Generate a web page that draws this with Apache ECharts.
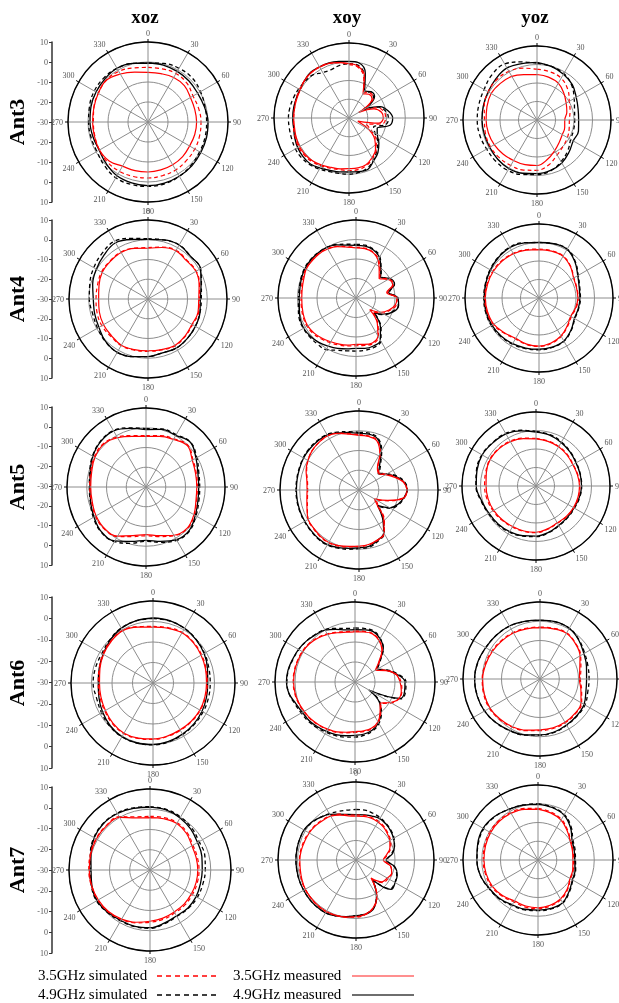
<!DOCTYPE html>
<html>
<head>
<meta charset="utf-8">
<script src="https://cdn.jsdelivr.net/npm/echarts/dist/echarts.min.js"></script>
<style>
  html, body { margin: 0; padding: 0; background: #fff; }
  /* own compositing layer without an opaque background: grayscale text antialiasing */
  #chart { width: 619px; height: 1003px; will-change: transform; }
</style>
</head>
<body>
<div id="chart"></div>
<script>
// Radiation patterns (dB) of five antennas in three cut planes.
// Angles in degrees, clockwise from the top (0 deg).
const angles15 = [0,15,30,45,60,75,90,105,120,135,150,165,180,195,210,225,240,255,270,285,300,315,330,345];
const angles10 = [0,10,20,30,40,50,60,70,80,90,100,110,120,130,140,150,160,170,180,190,200,210,220,230,240,250,260,270,280,290,300,310,320,330,340,350];
const rowNames = ['Ant3', 'Ant4', 'Ant5', 'Ant6', 'Ant7'];
const planeNames = ['xoz', 'xoy', 'yoz'];
const legendNames = ['3.5GHz simulated', '3.5GHz measured', '4.9GHz simulated', '4.9GHz measured'];

// ---- Ant3 ----
const ant3_xoz_s35 = [-2.7,-2.5,-2,-2.5,-4,-3.8,-3.5,-3.3,-3,-2.8,-2.3,-2.2,-2,-1.8,-1.5,-1.5,-2,-2.5,-2.7,-2,-1.3,-0.5,-0.8,-2];
const ant3_xoz_m35 = [-5.2,-5,-4.3,-4.3,-5.5,-5.8,-5.7,-5.8,-6,-5.5,-5.3,-5.2,-5,-4.8,-4.5,-2.5,-2,-2.3,-2.3,-2,-1.3,-0.5,-2.3,-4.2];
const ant3_xoz_s49 = [-0.5,0.3,1,1.2,0.3,-0.5,-0.7,-0.5,-0.2,0.5,1.3,2,2.2,2.3,2.2,0.8,-0.5,-0.5,-0.3,0.3,1,1.2,1,0.3];
const ant3_xoz_m49 = [-0.5,-0.5,-0.8,-1,-1.3,-0.8,0,0.3,0.5,1,1.3,1.6,1.8,1.5,1,-0.5,-1.8,-1.5,-1,-0.5,0,0.5,1,0.3];

const ant3_xoy_s35 = [-1.5,-2.5,-7,-14,-12.5,-13,-22,-14,-11,-10.5,-12,-20,-16,-11,-7.5,-5,-3,-2,-2,-2,-1.5,-0.5,0.5,1,1,0.5,0,-0.5,-0.5,0,0.5,1,1.5,1.5,1,0];
const ant3_xoy_m35 = [-1,-2,-6,-15,-13.5,-14,-24,-15.8,-12.4,-11.7,-14,-25,-18,-12,-8,-5.5,-3.5,-3,-3,-2.5,-2,-1,0,0.5,0.5,0,-0.5,-0.5,-0.5,-0.3,0,1,1.5,1.3,1,0];
const ant3_xoy_s49 = [-1,-1.5,-6,-14,-12,-13,-22,-13,-10,-9,-10,-16,-14,-10,-7,-4,-1.5,-0.5,0,0,0.5,1.5,2.5,3,3,2.5,2.3,2.3,2,1.5,1,0.5,0,-2,-2.5,-1.5];
const ant3_xoy_m49 = [0.2,-0.1,-4.6,-13.3,-11.7,-12.2,-20,-12.4,-8.7,-6.7,-7.8,-14,-12.6,-9.2,-6,-3.7,-0.8,-1,-1.2,-0.8,-0.3,0.8,2,2,1.6,0.8,0,0,0,0,0.2,1,1.8,1.5,1.3,0.6];

const ant3_yoz_s35 = [-2.5,-3,-3.9,-6.5,-9.8,-11.5,-12.5,-12,-11,-10,-8.2,-5,-2.8,-2,-1.6,-1.2,-1,-1.2,-1.6,-0.5,0.5,0.8,0.4,-1];
const ant3_yoz_m35 = [-5.4,-6,-7,-9.5,-11.8,-13.3,-15,-14.5,-14.2,-13,-10.9,-8,-5.4,-5,-4.7,-4,-3.3,-2.8,-2.5,-2,-1.4,-2,-2.8,-4.6];
const ant3_yoz_s49 = [0.7,0,-1,-3.5,-6.8,-9,-9.6,-9.5,-9,-6.5,-4,-1.5,-0.5,0.5,1.5,1.5,1.4,2,2.3,2.5,3,4.5,5,2.5];
const ant3_yoz_m49 = [1.2,0,-1.4,-3,-5.5,-7,-7.5,-6.8,-7.4,-5.5,-3.2,-1.8,-1,-0.2,0.4,0,-0.5,-0.5,-0.3,0,0.5,1.5,2.5,1.6];

// ---- Ant4 ----
const ant4_xoz_s35 = [-4,-2.8,-1.5,-2.2,-1.8,-3,-4,-3.5,-4,-3.3,-2.6,-3.3,-3.5,-3.2,-2.8,-3.3,-3,-3.3,-3.7,-3.5,-2.8,-2.8,-2.6,-3.3];
const ant4_xoz_m35 = [-4.3,-3,-1.8,-2.5,-2,-3.2,-4.3,-3.8,-4.3,-3.5,-2.8,-3.5,-3.8,-3.5,-3,-3.8,-4,-4.5,-5,-4.3,-3.2,-3,-2.8,-3.5];
const ant4_xoz_s49 = [0.5,1,1.6,0.5,0.7,-2,-3,-2.8,-2.3,-1.8,-1.3,-1.8,-0.8,0.2,1.2,0.5,-0.5,-1,-0.3,0.5,1.7,2.8,3.8,1.8];
const ant4_xoz_m49 = [0.2,1,1.6,0.5,0.7,-2.2,-3.5,-2.8,-2.3,-1.8,-1.3,-1.8,-0.8,0.2,1.2,0.4,-1.3,-2,-2.3,-1,0.2,1.5,2.9,1.2];

const ant4_xoy_s35 = [-4,-4,-4.8,-7,-11,-14,-10.5,-9.5,-13.5,-9,-9,-11.5,-14.5,-19,-12.5,-7,-5,-5.3,-5.5,-5,-4.3,-3.5,-2.5,-1.5,-1,-1.2,-1.6,-1.8,-1.6,-1,-0.3,-0.3,-0.3,-0.8,-1.8,-3.3];
const ant4_xoy_m35 = [-4.3,-4.3,-5,-7.5,-11.5,-14.5,-11,-10,-14,-9,-9.5,-12,-15.4,-20.8,-13,-7.5,-5.5,-5.8,-6.2,-5.5,-4.8,-4.1,-3,-2,-1.4,-1.6,-2,-2.2,-2,-1.5,-0.5,-0.5,-0.5,-1,-2,-3.5];
const ant4_xoy_s49 = [-2.5,-2.5,-3.5,-5.5,-10,-13,-10,-9,-12.5,-8.5,-8,-10,-13,-17,-10,-4.5,-3,-2.8,-2.8,-2.5,-1.5,0.6,0.8,1,1.2,1,0,-0.5,-0.5,0,0.5,0.5,0.3,0,-0.8,-2];
const ant4_xoy_m49 = [-3,-3,-3.8,-6,-10.2,-13.5,-10,-9,-13,-8.5,-7.8,-9.5,-13.5,-18,-10.5,-5,-3.8,-3.8,-4.2,-3.5,-2.5,-1.5,-0.3,0.5,1,0.5,-0.5,-0.9,-0.8,-0.3,0.2,0.3,0.2,0,-1,-2.5];

const ant4_yoz_s35 = [-3.5,-3.5,-3.8,-5.8,-8.2,-8.8,-8.8,-9.2,-9.8,-8.2,-6,-4.5,-3.8,-4,-4.5,-3.2,-1.4,-0.9,-0.7,-0.9,-1.1,-1.5,-2.1,-3];
const ant4_yoz_m35 = [-3.8,-3.8,-4,-6,-8.4,-9,-9,-9.5,-10.2,-8.5,-6.3,-4.8,-4,-4.2,-4.8,-3.5,-1.7,-1.2,-1,-1.2,-1.4,-1.8,-2.4,-3.2];
const ant4_yoz_s49 = [0,0.4,0.6,-2.2,-5.5,-7.2,-7.6,-7.8,-7.6,-5.3,-3,-2.3,-2,-1.7,-1.2,-0.7,-0.3,-0.2,-0.2,0,0.6,1.2,1.7,1];
const ant4_yoz_m49 = [0,0.4,0.4,-2.5,-5.8,-7.5,-7.9,-8,-7.9,-5.5,-3.2,-2.5,-2.3,-2,-1.5,-1,-0.6,-0.5,-0.5,-0.2,0.4,1,1.5,0.8];

// ---- Ant5 ----
const ant5_xoz_s35 = [-4,-3,-1.8,0,-2.5,-3.6,-4,-3.5,-1.8,-0.3,-1.5,-4,-5.3,-4,-1,0,-0.5,-1.5,-1.5,-1,0.3,0.8,-0.8,-3];
const ant5_xoz_m35 = [-4.4,-3.5,-2.2,-0.4,-2.9,-4,-4.3,-3.8,-2,-0.5,-1.8,-4.5,-5.9,-4.5,-1.3,-0.3,-0.8,-1.8,-2,-1.5,-0.1,0.5,-1.2,-3.5];
const ant5_xoz_s49 = [-0.5,0.5,0.6,2,-0.3,-2.3,-2.8,-2.3,-0.8,1.3,1.2,-1,-2.5,-0.5,2,2.2,0.8,-0.8,-1.3,-0.5,1.3,2.7,3,1];
const ant5_xoz_m49 = [-1,0.2,0.2,1.9,-0.8,-2.8,-3.3,-2.8,-1.2,1,0.8,-1.5,-3,-1.5,1.5,2,0.4,-1,-1.6,-0.8,1.1,2.5,2.8,0.7];

const ant5_xoy_s35 = [-2,-2.2,-3.2,-8.5,-15,-16.5,-14,-10.5,-7,-5.8,-7.2,-14,-20,-17,-10,-4.5,-2.8,-1.8,-1.3,-0.8,0.2,0.8,0.7,0.2,-0.2,-2.2,-3.5,-4,-3.5,-1.8,-0.2,1,1.5,1.7,0.6,-1];
const ant5_xoy_m35 = [-2.3,-2.5,-3.5,-8.9,-15.5,-17,-14.5,-11,-7.2,-5.7,-7,-14.5,-21,-17.8,-10.5,-4.7,-3,-2,-1.6,-1,0,0.7,0.5,0,-0.3,-2,-3.2,-3.7,-3.2,-1.5,-0.1,1,1.5,1.7,0.5,-1.3];
const ant5_xoy_s49 = [-0.8,-0.8,-2,-7,-13,-16.5,-13.5,-9.5,-6.5,-5.5,-6.8,-8.5,-11.5,-17,-11,-4.5,-2.3,-0.5,-0.3,0.5,1.3,2.2,2.3,2,1.9,1.9,1.9,1.9,2,2.2,2.6,2.8,2.7,2.5,1.2,0];
const ant5_xoy_m49 = [-1.3,-1.3,-2.5,-7.7,-13.8,-17.3,-14,-10,-6.8,-5.7,-7,-9,-12,-17.8,-11.5,-5,-2.8,-1,-0.8,0,1,1.9,2,1.8,1.7,1.7,1.7,1.7,1.8,2,2.4,2.5,2.4,2.2,0.8,-0.5];

const ant5_yoz_s35 = [-4.3,-4.8,-5.3,-6,-6.8,-6.6,-6.3,-6.3,-6.4,-6.6,-6.8,-5.8,-4.8,-4.6,-4.4,-3.9,-3.2,-2.6,-2.2,-1.8,-1.2,-1.4,-2,-3.2];
const ant5_yoz_m35 = [-4.5,-5,-5.5,-6.3,-7,-6.8,-6.5,-6.5,-6.6,-6.8,-7,-6,-5,-4.8,-4.7,-4.2,-3.6,-3.2,-3,-2.2,-1.4,-1.6,-2.3,-3.5];
const ant5_yoz_s49 = [-0.5,-1.2,-2.5,-3.8,-4.8,-5.2,-5.3,-5.6,-6,-5.8,-5.2,-3.8,-2.6,-2,-1.2,-0.7,-0.3,0.8,2.5,3.3,3.8,3.2,2.8,1.2];
const ant5_yoz_m49 = [-0.9,-1.5,-2.8,-4,-5,-5.3,-5.4,-5.8,-6.3,-6,-5.4,-4,-2.9,-2.2,-1.5,-1,-0.6,0.5,2.3,3,3.6,3,2.5,0.8];

// ---- Ant6 ----
const ant6_xoz_s35 = [-2.4,-2,-1.5,-2,-2.6,-3.2,-3.5,-3.5,-3.4,-3.4,-3.3,-3,-2.5,-2,-1.5,-2,-2.8,-3.2,-3.3,-2.8,-1.8,-1,-0.4,-1.5];
const ant6_xoz_m35 = [-2.7,-2.3,-1.7,-2.2,-2.9,-3.5,-3.9,-3.8,-3.6,-3.6,-3.6,-3.2,-2.7,-2.2,-1.7,-2.3,-3.2,-3.7,-3.9,-3.2,-2.1,-1.2,-0.5,-1.8];
const ant6_xoz_s49 = [1.5,1.3,0.8,-0.1,-1,-1.8,-2.1,-2,-1.8,-1.5,-1,-0.3,0.2,0.3,0.3,-0.2,-1,-1.5,-0.8,-1,-1.2,-0.2,1,1.4];
const ant6_xoz_m49 = [1.7,1.5,0.8,-0.2,-1.2,-2.5,-3.3,-3,-2.4,-1.8,-1.2,-0.5,0,0.3,0.3,-0.5,-1.6,-2.7,-3.3,-2.8,-1.9,-0.5,0.9,1.5];

const ant6_xoy_s35 = [-4.5,-4.3,-4.2,-5.8,-8.8,-14,-17.5,-13,-8.8,-7,-6.2,-6.3,-9,-13,-10,-6.7,-5.2,-4.8,-4.8,-4.2,-3.2,-2.5,-1.8,-1,-0.5,0.2,0.7,0.9,0.9,0.7,0.5,0,-1,-2.2,-3.5,-4.4];
const ant6_xoy_m35 = [-4.9,-4.6,-4.4,-6,-9,-14.5,-18.3,-13.5,-9,-7.5,-6.5,-6.5,-9.5,-13.5,-10.5,-7,-5.5,-5.2,-5.2,-4.5,-3.5,-2.8,-2,-1.2,-0.7,0,0.5,0.7,0.7,0.5,0.3,-0.3,-1.3,-2.5,-3.8,-4.7];
const ant6_xoy_s49 = [-3,-2.8,-2.8,-4.8,-8,-13.5,-17,-12.5,-8,-4.5,-4.3,-5.5,-20,-13.5,-9.5,-6,-4,-3,-2.5,-2,-1.5,-1,-0.3,0.5,1,2,3.5,4,3.8,3,2.5,1.8,1,0.2,-1.5,-2.8];
const ant6_xoy_m49 = [-3.8,-3.5,-3.2,-5,-8,-14,-17.5,-13,-8.5,-5,-4.8,-6,-22,-14,-10,-6.5,-4.5,-3.6,-3.3,-2.7,-2,-1.5,-0.8,0,0.4,1.5,3.5,4.3,4,3.2,2.6,1.8,0.8,0,-2,-3.5];

const ant6_yoz_s35 = [-3,-2.7,-2.3,-3.8,-5.6,-8,-9,-7.6,-5,-4.2,-3.7,-3.4,-3.2,-2.2,-1.1,-0.3,0.4,0.3,0,-0.5,-1.1,-1.7,-2.1,-2.7];
const ant6_yoz_m35 = [-3.3,-3,-2.6,-4,-6,-8.6,-9.5,-8,-5.4,-4.5,-4,-3.8,-3.6,-2.5,-1.4,-0.6,0.1,0,-0.2,-0.8,-1.4,-2,-2.4,-3];
const ant6_yoz_s49 = [0.5,0.7,0.5,-1.3,-3.2,-4.2,-4.5,-4.3,-3,-2.8,-2.2,-1.3,-0.8,0.2,1.1,2.2,3.2,3.7,3.9,3.4,2.5,2.1,1.7,0.9];
const ant6_yoz_m49 = [0.6,0.8,0.4,-1.5,-3.7,-5,-5.8,-5.3,-3.6,-3,-2.4,-1.5,-1,0,1,2.2,3.3,3.8,4,3.5,2.6,2.2,1.8,1];

// ---- Ant7 ----
const ant7_xoz_s35 = [-3.5,-3.2,-3,-4,-5.5,-5.8,-5.8,-5.8,-5.8,-5.6,-5.5,-4.8,-4.2,-3,-1.8,-0.8,-0.3,0,0.2,0.5,0.8,0.8,0.4,-2.8];
const ant7_xoz_m35 = [-4.1,-3.8,-3.5,-4.5,-6.1,-6.4,-6.4,-6.4,-6.4,-6.2,-6.1,-5.4,-4.7,-3.3,-2,-1,-0.5,-0.2,0,0.3,0.6,0.6,0,-3.4];
const ant7_xoz_s49 = [1.3,1,0.2,-0.8,-2,-2,-2.7,-3,-3,-3.2,-3.5,-2.5,-1.2,-1,-1,-0.3,0.5,0,-0.5,0.5,2,2.6,2.4,1.8];
const ant7_xoz_m49 = [1,0.7,-0.3,-1.5,-2.9,-3.5,-4.2,-4.2,-3.7,-3.5,-3.8,-2.8,-1.5,-1.2,-1.2,-0.5,0.3,-0.3,-0.9,0.2,1.8,2.5,2.2,1.5];

const ant7_xoy_s35 = [-7,-6.8,-6.8,-7,-7.6,-8.6,-9.6,-11,-13.5,-15.5,-12,-10.5,-11,-12,-17,-8.3,-3.8,-1.6,-0.7,-0.2,0.3,0.6,0.6,0.3,0.1,-0.3,-0.8,-1,-1.2,-1.6,-2,-2.5,-3.2,-3.8,-5,-6.5];
const ant7_xoy_m35 = [-7.5,-7.3,-7.2,-7.5,-8,-9,-10,-11.5,-14,-16,-12,-10.5,-11.5,-12.6,-18,-8.5,-4,-1.8,-0.9,-0.3,0.2,0.5,0.4,0.2,0,-0.5,-1,-1.2,-1.5,-2,-2.3,-2.8,-3.5,-4,-5.5,-7];
const ant7_xoy_s49 = [-4.1,-4,-4.5,-5,-5.8,-6.5,-7.5,-9,-11.5,-14,-10,-7.8,-7,-7,-16,-9,-3.8,-2,-1.5,-0.5,0.5,1.2,1.3,1.2,1,0.9,0.8,0.8,0.8,0.8,0.6,-0.3,-1.5,-2.5,-3.5,-4];
const ant7_xoy_m49 = [-6.7,-6.5,-6,-5.5,-6,-6.8,-7.8,-9,-11,-14.5,-9.7,-7.5,-6.8,-6.5,-17,-9,-3.5,-1.8,-1.4,-0.5,0.5,1.3,1.3,1.2,1,0.9,0.8,0.8,0.8,0.8,0.8,0,-1.5,-3,-5,-6.3];

const ant7_yoz_s35 = [-2.4,-3.5,-5,-7.6,-9.8,-10.7,-11,-10.5,-10,-7.7,-5.6,-4.6,-4,-4,-4.2,-2.8,-1.5,-1,-0.8,-0.5,-0.3,-0.4,-0.8,-1.5];
const ant7_yoz_m35 = [-2.9,-4,-5.4,-8,-10.1,-11,-11.4,-10.8,-10.3,-8,-6,-5,-4.5,-4.6,-4.8,-3.2,-1.9,-1.4,-1.2,-1,-0.8,-0.8,-1.2,-2];
const ant7_yoz_s49 = [0,-0.8,-2,-5,-8.5,-9.5,-10,-9.2,-8.5,-6.2,-3.5,-3,-3,-2.5,-2,-0.8,0.3,1.8,2.5,3,3.4,2.6,1.2,0.4];
const ant7_yoz_m49 = [-0.3,-1,-2.3,-5.5,-9,-10,-10.5,-9.5,-8.8,-6.5,-3.7,-3.3,-3.3,-2.8,-2.4,-1,0.1,1.8,2.6,3.3,3.8,2.8,1.2,0.3];

// Panel table: rows are antennas, columns are cut planes.
const panels = [
  [[ant3_xoz_s35, ant3_xoz_m35, ant3_xoz_s49, ant3_xoz_m49], [ant3_xoy_s35, ant3_xoy_m35, ant3_xoy_s49, ant3_xoy_m49], [ant3_yoz_s35, ant3_yoz_m35, ant3_yoz_s49, ant3_yoz_m49]],
  [[ant4_xoz_s35, ant4_xoz_m35, ant4_xoz_s49, ant4_xoz_m49], [ant4_xoy_s35, ant4_xoy_m35, ant4_xoy_s49, ant4_xoy_m49], [ant4_yoz_s35, ant4_yoz_m35, ant4_yoz_s49, ant4_yoz_m49]],
  [[ant5_xoz_s35, ant5_xoz_m35, ant5_xoz_s49, ant5_xoz_m49], [ant5_xoy_s35, ant5_xoy_m35, ant5_xoy_s49, ant5_xoy_m49], [ant5_yoz_s35, ant5_yoz_m35, ant5_yoz_s49, ant5_yoz_m49]],
  [[ant6_xoz_s35, ant6_xoz_m35, ant6_xoz_s49, ant6_xoz_m49], [ant6_xoy_s35, ant6_xoy_m35, ant6_xoy_s49, ant6_xoy_m49], [ant6_yoz_s35, ant6_yoz_m35, ant6_yoz_s49, ant6_yoz_m49]],
  [[ant7_xoz_s35, ant7_xoz_m35, ant7_xoz_s49, ant7_xoz_m49], [ant7_xoy_s35, ant7_xoy_m35, ant7_xoy_s49, ant7_xoy_m49], [ant7_yoz_s35, ant7_yoz_m35, ant7_yoz_s49, ant7_yoz_m49]]
];

// ---- layout ----
const panelCenters = [
  [[148,122],[349,118],[537,120]],
  [[148,299],[356,298],[539,298]],
  [[146,487],[359,490],[536,486]],
  [[153,683],[355,682],[540,679]],
  [[150,870],[356,860],[538,860]]
];
const panelRadii = [
  [80,75,74],
  [79,78,74],
  [79,79,74],
  [82,80,77],
  [81,78,75]
];
const scaleSpans = [[42,202],[220,378],[407,565],[597,768],[787,953]];
const titleX = [145, 347, 535];

const serif = '"Liberation Serif", "Times New Roman", serif';
const labelGrey = '#555555';
const seriesStyle = [
  { color: '#ff0000', type: [4, 3], width: 1.2, z: 3 },
  { color: '#ff0000', type: 'solid', width: 1.2, z: 4 },
  { color: '#000000', type: [4, 3], width: 1.3, z: 1 },
  { color: '#000000', type: 'solid', width: 1.3, z: 2 }
];

const polar = [], angleAxis = [], radiusAxis = [], series = [];
const grid = [], xAxis = [], yAxis = [];

panels.forEach((row, r) => {
  row.forEach((cell, c) => {
    const idx = r * 3 + c;
    polar.push({ center: panelCenters[r][c], radius: panelRadii[r][c] });
    angleAxis.push({
      polarIndex: idx, type: 'value', min: 0, max: 360, interval: 30,
      startAngle: 90, clockwise: true,
      axisLine: { lineStyle: { color: '#000', width: 1.4 } },
      axisTick: { show: true, length: 3, lineStyle: { color: '#000', width: 1 } },
      splitLine: { show: true, lineStyle: { color: '#8c8c8c', width: 1 } },
      axisLabel: {
        fontSize: 8, fontFamily: serif, margin: 5, color: labelGrey,
        formatter: v => (v === 360 ? '' : String(v))
      },
      z: 5
    });
    radiusAxis.push({
      polarIndex: idx, type: 'value', min: -30, max: 10, interval: 10,
      axisLine: { show: false }, axisTick: { show: false }, axisLabel: { show: false },
      splitLine: { show: true, lineStyle: { color: '#8c8c8c', width: 1 } }
    });
    const ang = cell[0].length === angles10.length ? angles10 : angles15;
    cell.forEach((vals, k) => {
      const data = vals.map((v, i) => [v, ang[i]]);
      data.push([vals[0], 360]);
      const st = seriesStyle[k];
      series.push({
        name: legendNames[k], type: 'line', coordinateSystem: 'polar', polarIndex: idx,
        data: data, smooth: 0.4, showSymbol: false, symbol: 'none',
        lineStyle: { color: st.color, type: st.type, width: st.width },
        z: st.z, silent: true, animation: false
      });
    });
  });
  // dB scale bar on the left of each row
  const [top, bottom] = scaleSpans[r];
  grid.push({ left: 52, width: 10, top: top, height: bottom - top });
  xAxis.push({ gridIndex: r, type: 'value', show: false });
  yAxis.push({
    gridIndex: r, type: 'value', min: -40, max: 40, interval: 10, position: 'left',
    axisLine: { show: true, lineStyle: { color: '#333', width: 1.5 } },
    axisTick: { show: true, length: 3, lineStyle: { color: '#333' } },
    splitLine: { show: false },
    axisLabel: { fontSize: 8, color: labelGrey, fontFamily: serif, margin: 4,
                 formatter: v => String(Math.abs(v) - 30) }
  });
});

// Column titles, row labels and legend
const graphic = [];
planeNames.forEach((n, c) => {
  graphic.push({ type: 'text', x: titleX[c], y: 16,
    style: { text: n, fill: '#000', font: 'bold 19px ' + serif, align: 'center', verticalAlign: 'middle' } });
});
rowNames.forEach((n, r) => {
  graphic.push({ type: 'text', x: 16, y: panelCenters[r][0][1], rotation: Math.PI / 2,
    style: { text: n, fill: '#000', font: 'bold 22px ' + serif, align: 'center', verticalAlign: 'middle' } });
});
const legendRows = [975, 994];
const legendItems = [
  { name: legendNames[0], col: 0, row: 0, stroke: '#ff0000', dash: [5, 4], w: 1.5 },
  { name: legendNames[1], col: 1, row: 0, stroke: '#ff6a6a', dash: null, w: 1.5 },
  { name: legendNames[2], col: 0, row: 1, stroke: '#000000', dash: [5, 4], w: 1.5 },
  { name: legendNames[3], col: 1, row: 1, stroke: '#6e6e6e', dash: null, w: 2 }
];
const legendTextX = [38, 233];
const legendLineX = [[157, 217], [352, 414]];
legendItems.forEach(it => {
  const y = legendRows[it.row];
  graphic.push({ type: 'text', x: legendTextX[it.col], y: y,
    style: { text: it.name, fill: '#000', font: '15px ' + serif, align: 'left', verticalAlign: 'middle' } });
  graphic.push({ type: 'line',
    shape: { x1: legendLineX[it.col][0], y1: y + 1, x2: legendLineX[it.col][1], y2: y + 1 },
    style: { stroke: it.stroke, lineWidth: it.w, lineDash: it.dash } });
});

const chart = echarts.init(document.getElementById('chart'), null, { renderer: 'svg' });
chart.setOption({
  animation: false,
  backgroundColor: 'transparent',
  polar, angleAxis, radiusAxis, grid, xAxis, yAxis, series, graphic
});
</script>
</body>
</html>
